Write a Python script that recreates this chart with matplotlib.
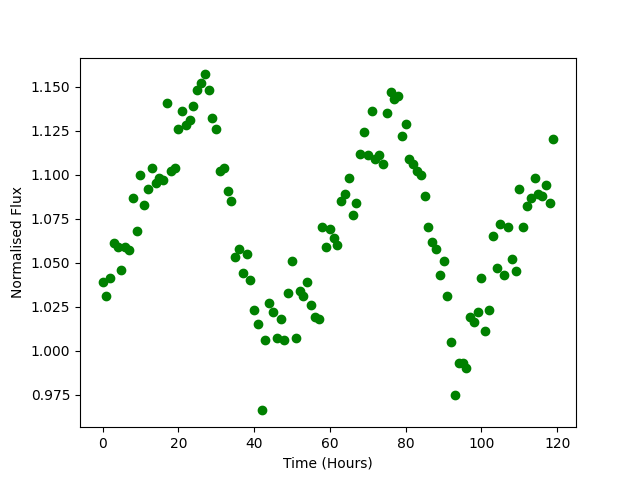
import numpy as np
import matplotlib
matplotlib.use('Agg')
import matplotlib.pyplot as plt

# Hourly flux readings (normalised)
time_hours = np.arange(120)
flux = [
    1.039, 1.031, 1.041, 1.061, 1.059, 1.046, 1.059, 1.057, 1.087, 1.068,
    1.100, 1.083, 1.092, 1.104, 1.095, 1.098, 1.097, 1.141, 1.102, 1.104,
    1.126, 1.136, 1.128, 1.131, 1.139, 1.148, 1.152, 1.157, 1.148, 1.132,
    1.126, 1.102, 1.104, 1.091, 1.085, 1.053, 1.058, 1.044, 1.055, 1.040,
    1.023, 1.015, 0.966, 1.006, 1.027, 1.022, 1.007, 1.018, 1.006, 1.033,
    1.051, 1.007, 1.034, 1.031, 1.039, 1.026, 1.019, 1.018, 1.070, 1.059,
    1.069, 1.064, 1.060, 1.085, 1.089, 1.098, 1.077, 1.084, 1.112, 1.124,
    1.111, 1.136, 1.109, 1.111, 1.106, 1.135, 1.147, 1.143, 1.145, 1.122,
    1.129, 1.109, 1.106, 1.102, 1.100, 1.088, 1.070, 1.062, 1.058, 1.043,
    1.051, 1.031, 1.005, 0.975, 0.993, 0.993, 0.990, 1.019, 1.016, 1.022,
    1.041, 1.011, 1.023, 1.065, 1.047, 1.072, 1.043, 1.070, 1.052, 1.045,
    1.092, 1.070, 1.082, 1.087, 1.098, 1.089, 1.088, 1.094, 1.084, 1.120,
]

plt.figure(figsize=(6.4, 4.8), dpi=100)
plt.plot(time_hours, flux, 'o', color='green')
plt.xlabel("Time (Hours)")
plt.ylabel("Normalised Flux")
plt.savefig("out.png")
